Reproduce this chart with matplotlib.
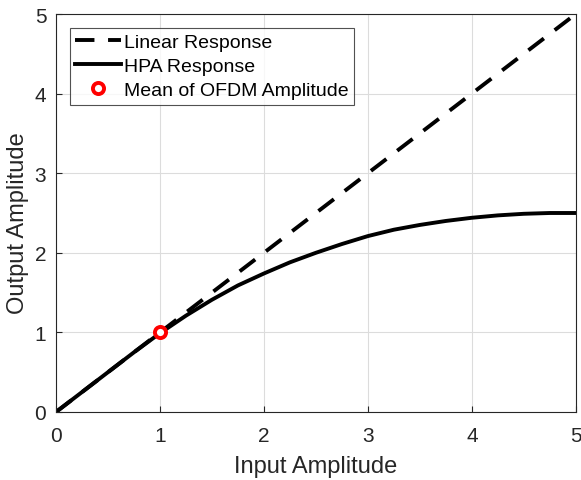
import numpy as np
import matplotlib
matplotlib.use('Agg')
import matplotlib.pyplot as plt

plt.rcParams['font.family'] = ['Liberation Sans', 'DejaVu Sans']

# linear reference
lin_x = [0, 5]
lin_y = [0, 5]

# HPA response
hpa_x = [0, 0.25, 0.5, 0.75, 1, 1.25, 1.5, 1.75, 2, 2.25, 2.5, 2.75,
         3, 3.25, 3.5, 3.75, 4, 4.25, 4.5, 4.75, 5]
hpa_y = [0, 0.25, 0.50, 0.75, 0.99, 1.21, 1.41, 1.59, 1.74, 1.88, 2.00, 2.11,
         2.21, 2.29, 2.35, 2.40, 2.44, 2.47, 2.49, 2.50, 2.50]

# mean OFDM amplitude point
mean_x = [1]
mean_y = [1]

fig = plt.figure(figsize=(5.81, 4.81), dpi=100)
ax = fig.add_axes([0.0964, 0.1414, 0.8946, 0.8274])

ax.plot(lin_x, lin_y, color='black', lw=2.8, ls=(0, (5, 3.5)), label='Linear Response')
ax.plot(hpa_x, hpa_y, color='black', lw=2.8, label='HPA Response')
ax.plot(mean_x, mean_y, ls='none', marker='o', ms=8, mfc='white', mec='red',
        mew=2.8, label='Mean of OFDM Amplitude')

ax.set_xlim(0, 5)
ax.set_ylim(0, 5)
ax.set_xticks(range(6))
ax.set_yticks(range(6))
ax.grid(True, color='#dcdcdc', lw=0.8)
ax.set_axisbelow(True)
ax.tick_params(direction='in', length=4, labelsize=15, colors='#262626')
ax.tick_params(axis='x', pad=10)
ax.tick_params(axis='y', pad=7)
for s in ax.spines.values():
    s.set_color('#262626')
    s.set_linewidth(0.8)

ax.set_xlabel('Input Amplitude', fontsize=17, color='#262626', labelpad=7)
ax.set_ylabel('Output Amplitude', fontsize=17, color='#262626')
ax.yaxis.set_label_coords(-0.052, 0.477)

leg = ax.legend(loc='upper left', fontsize=14, frameon=True, fancybox=False,
                edgecolor='#262626', borderpad=0.28, labelspacing=0.34,
                handlelength=2.35, handletextpad=0.15, borderaxespad=0.7)
leg.get_frame().set_linewidth(0.8)

fig.savefig('out.png', dpi=100)
